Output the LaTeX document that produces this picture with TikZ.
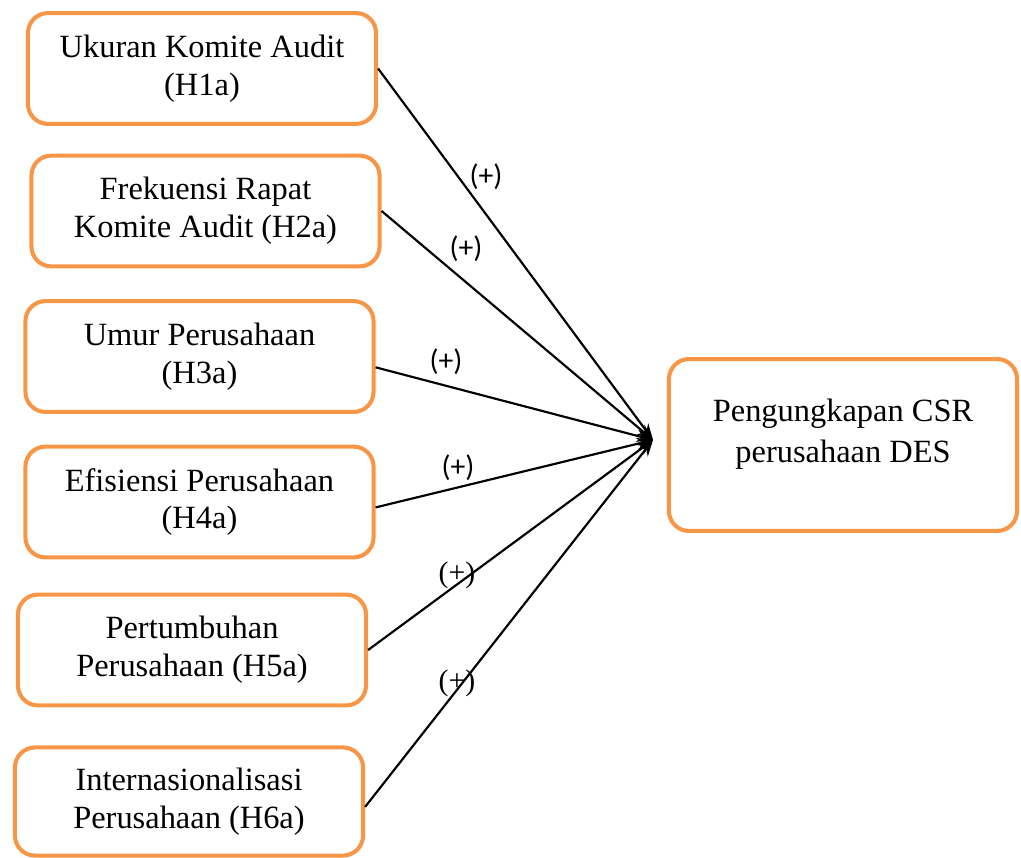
\documentclass[tikz,border=0pt]{standalone}
\usepackage{fontspec}
\setmainfont{Liberation Serif}
\newfontfamily\signfont{Carlito}
\usetikzlibrary{arrows.meta}
\definecolor{boxorange}{RGB}{247,150,70}

\tikzset{
  var/.style={draw=boxorange, line width=1.5pt, rounded corners=7.4pt,
    minimum width=128.8pt, minimum height=41pt, inner sep=0pt,
    align=center, font=\fontsize{12}{14}\selectfont},
  rel/.style={-{Stealth[length=6pt,width=4.5pt]}, line width=0.8pt},
  sign/.style={inner sep=0pt, font=\signfont\fontsize{11}{13}\selectfont}
}

\begin{document}
\begin{tikzpicture}[x=0.37pt,y=-0.37pt]
    \useasboundingbox (0,0) rectangle (1021,857);

    % Nodes
    \node (ukuran) at (202,68.5) [var] {Ukuran Komite Audit\\(H1a)};
    \node (rapat) at (205.5,211) [var] {Frekuensi Rapat\\Komite Audit (H2a)};
    \node (umur) at (199.5,356.5) [var] {Umur Perusahaan\\(H3a)};
    \node (efisiensi) at (199.5,502) [var] {Efisiensi Perusahaan\\(H4a)};
    \node (tumbuh) at (192,650) [var] {Pertumbuhan\\Perusahaan (H5a)};
    \node (intl) at (189,801.5) [var, minimum height=40pt] {Internasionalisasi\\Perusahaan (H6a)};
    \node (csr) at (843,445) [var, minimum height=63.6pt] {};
    \node (csrtext) at (843,434) [align=center, font=\fontsize{12}{15}\selectfont] {Pengungkapan CSR\\perusahaan DES};
    \coordinate (tip) at (653,440);

    % Arrows (hypotheses)
    \draw [rel] (ukuran.east) -- (tip);
    \draw [rel] (rapat.east) -- (tip);
    \draw [rel] ([yshift=-4pt]umur.east) -- (tip);
    \draw [rel] ([yshift=-2pt]efisiensi.east) -- (tip);
    \draw [rel] (tumbuh.east) -- (tip);
    \draw [rel] ([yshift=-2pt]intl.east) -- (tip);

    % Signs
    \node [sign] (s1) at (486,177) {(+)};
    \node [sign] (s2) at (466,249) {(+)};
    \node [sign] (s3) at (446,362) {(+)};
    \node [sign] (s4) at (458,468) {(+)};
    \node [inner sep=0pt, font=\fontsize{11}{13}\selectfont] (s5) at (457,575) {(+)};
    \node [inner sep=0pt, font=\fontsize{11}{13}\selectfont] (s6) at (457,683) {(+)};
\end{tikzpicture}
\end{document}
